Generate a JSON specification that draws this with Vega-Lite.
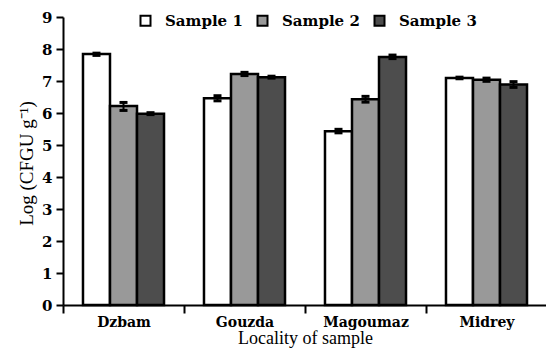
{
  "$schema": "https://vega.github.io/schema/vega-lite/v6.json",
  "autosize": {"type": "none"},
  "padding": {"left": 63, "top": 17, "right": 0, "bottom": 51},
  "width": 484,
  "height": 288,
  "background": "white",
  "config": {
    "view": {"stroke": null},
    "font": "Liberation Serif",
    "axis": {"domainColor": "black", "domainWidth": 2, "tickColor": "black", "tickWidth": 2, "labelColor": "black", "titleColor": "#000000", "grid": false, "labelFont": "DejaVu Serif", "titleFont": "Liberation Serif"},
    "legend": {"labelFont": "DejaVu Serif"}
  },
  "data": {
    "values": [
      {"locality": "Dzbam", "sample": "Sample 1", "value": 7.84, "lo": 7.80, "hi": 7.87},
      {"locality": "Dzbam", "sample": "Sample 2", "value": 6.22, "lo": 6.08, "hi": 6.33},
      {"locality": "Dzbam", "sample": "Sample 3", "value": 5.98, "lo": 5.95, "hi": 6.01},
      {"locality": "Gouzda", "sample": "Sample 1", "value": 6.46, "lo": 6.38, "hi": 6.54},
      {"locality": "Gouzda", "sample": "Sample 2", "value": 7.22, "lo": 7.17, "hi": 7.27},
      {"locality": "Gouzda", "sample": "Sample 3", "value": 7.12, "lo": 7.09, "hi": 7.15},
      {"locality": "Magoumaz", "sample": "Sample 1", "value": 5.43, "lo": 5.38, "hi": 5.49},
      {"locality": "Magoumaz", "sample": "Sample 2", "value": 6.43, "lo": 6.34, "hi": 6.52},
      {"locality": "Magoumaz", "sample": "Sample 3", "value": 7.75, "lo": 7.70, "hi": 7.81},
      {"locality": "Midrey", "sample": "Sample 1", "value": 7.09, "lo": 7.07, "hi": 7.12},
      {"locality": "Midrey", "sample": "Sample 2", "value": 7.04, "lo": 6.99, "hi": 7.09},
      {"locality": "Midrey", "sample": "Sample 3", "value": 6.89, "lo": 6.80, "hi": 6.98}
    ]
  },
  "encoding": {
    "x": {
      "field": "locality", "type": "nominal", "sort": null,
      "scale": {"paddingInner": 0, "paddingOuter": 0},
      "axis": {
        "title": "Locality of sample", "labelAngle": 0, "tickBand": "extent", "tickSize": 8,
        "labelFontSize": 14, "labelFontWeight": "bold", "labelBaseline": "alphabetic", "labelPadding": 13,
        "titleFontSize": 18, "titleFontWeight": "normal", "titleBaseline": "alphabetic", "titleY": 38
      }
    },
    "xOffset": {"field": "sample", "type": "nominal", "scale": {"paddingInner": 0, "paddingOuter": 0.74}}
  },
  "layer": [
    {
      "mark": {"type": "bar", "stroke": "black", "strokeWidth": 2.5, "opacity": 1},
      "encoding": {
        "y": {
          "field": "value", "type": "quantitative",
          "scale": {"domain": [0, 9], "nice": false},
          "axis": {
            "title": "Log (CFGU g⁻¹)", "values": [0,1,2,3,4,5,6,7,8,9], "tickSize": 7,
            "labelFontSize": 15, "labelFontWeight": "bold", "labelPadding": 4,
            "titleFontSize": 19, "titleFontWeight": "normal", "titleBaseline": "alphabetic",
            "titleX": -31, "titleY": 146, "titleAngle": -90, "titleAlign": "center"
          }
        },
        "fill": {
          "field": "sample", "type": "nominal",
          "scale": {"domain": ["Sample 1", "Sample 2", "Sample 3"], "range": ["#ffffff", "#999999", "#4d4d4d"]},
          "legend": {
            "title": null, "orient": "none", "direction": "horizontal", "legendX": 75, "legendY": -4,
            "symbolType": "square", "symbolSize": 100, "symbolStrokeColor": "black", "symbolStrokeWidth": 2,
            "symbolOpacity": 1, "labelFontSize": 15, "labelFontWeight": "bold", "labelColor": "black",
            "labelOffset": 12, "columnPadding": 10, "padding": 0
          }
        }
      }
    },
    {
      "mark": {"type": "rule", "color": "black", "strokeWidth": 2},
      "encoding": {
        "y": {
          "field": "lo", "type": "quantitative",
          "axis": {
            "title": "Log (CFGU g⁻¹)", "values": [0,1,2,3,4,5,6,7,8,9], "tickSize": 7,
            "labelFontSize": 15, "labelFontWeight": "bold", "labelPadding": 4,
            "titleFontSize": 19, "titleFontWeight": "normal", "titleBaseline": "alphabetic",
            "titleX": -31, "titleY": 146, "titleAngle": -90, "titleAlign": "center"
          }
        },
        "y2": {"field": "hi"}
      }
    },
    {
      "mark": {"type": "tick", "color": "black", "size": 8, "thickness": 3, "orient": "horizontal", "opacity": 1},
      "encoding": {
        "y": {
          "field": "lo", "type": "quantitative",
          "axis": {
            "title": "Log (CFGU g⁻¹)", "values": [0,1,2,3,4,5,6,7,8,9], "tickSize": 7,
            "labelFontSize": 15, "labelFontWeight": "bold", "labelPadding": 4,
            "titleFontSize": 19, "titleFontWeight": "normal", "titleBaseline": "alphabetic",
            "titleX": -31, "titleY": 146, "titleAngle": -90, "titleAlign": "center"
          }
        }
      }
    },
    {
      "mark": {"type": "tick", "color": "black", "size": 8, "thickness": 3, "orient": "horizontal", "opacity": 1},
      "encoding": {
        "y": {
          "field": "hi", "type": "quantitative",
          "axis": {
            "title": "Log (CFGU g⁻¹)", "values": [0,1,2,3,4,5,6,7,8,9], "tickSize": 7,
            "labelFontSize": 15, "labelFontWeight": "bold", "labelPadding": 4,
            "titleFontSize": 19, "titleFontWeight": "normal", "titleBaseline": "alphabetic",
            "titleX": -31, "titleY": 146, "titleAngle": -90, "titleAlign": "center"
          }
        }
      }
    }
  ]
}
